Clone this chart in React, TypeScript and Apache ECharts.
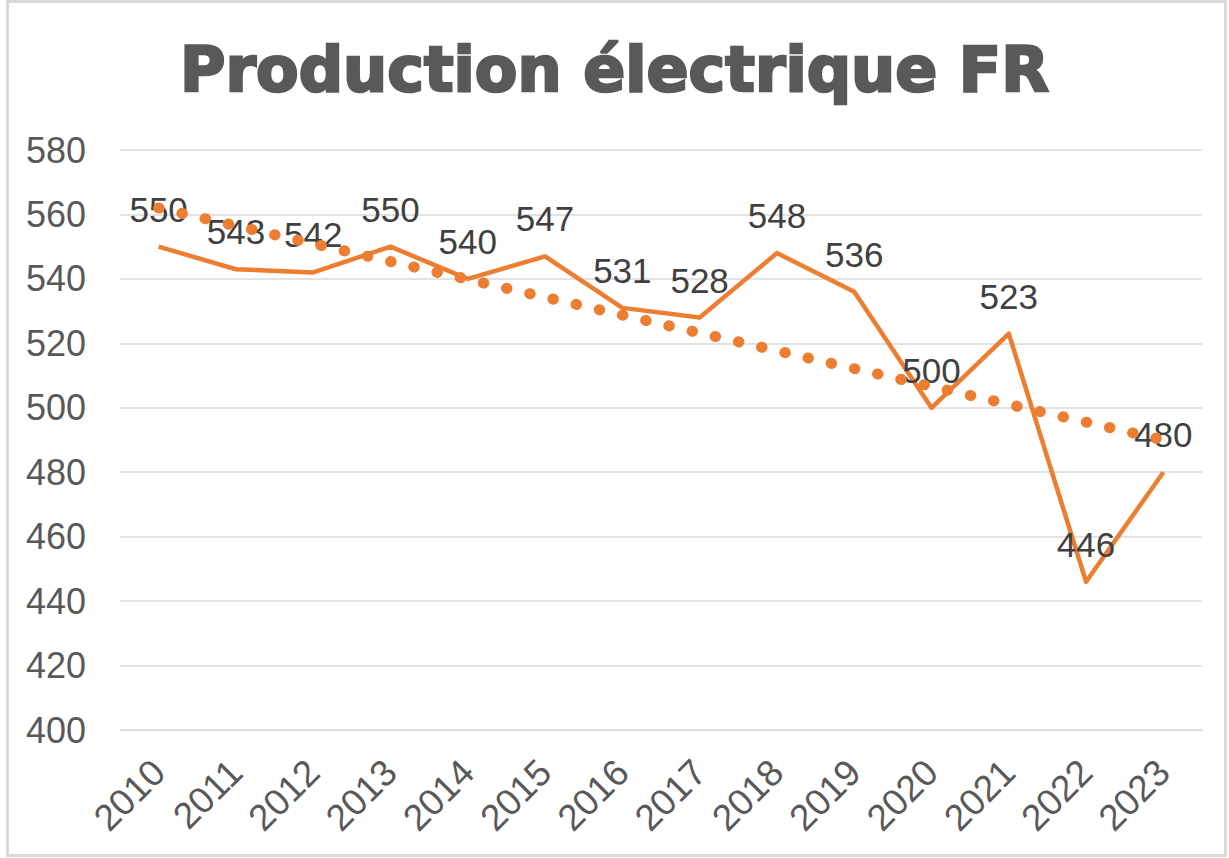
import React, { useEffect, useRef } from "react";
import * as echarts from "echarts";

const years = ["2010", "2011", "2012", "2013", "2014", "2015", "2016", "2017", "2018", "2019", "2020", "2021", "2022", "2023"];
const production = [550, 543, 542, 550, 540, 547, 531, 528, 548, 536, 500, 523, 446, 480];
// Linear trendline endpoints (2010 and 2023)
const trendStart = 562;
const trendEnd = 490;
const yTicks = { min: 400, max: 580, step: 20 };
const titleText = "Production électrique FR";

export default function App() {
  const ref = useRef<HTMLDivElement>(null);
  useEffect(() => {
    if (!ref.current) return;
    const chart = echarts.init(ref.current, undefined, { renderer: "svg" });
    const trend = years.map((_, i) => (i === 0 ? trendStart : i === years.length - 1 ? trendEnd : null));
    chart.setOption({
      animation: false,
      backgroundColor: "#ffffff",
      title: {
        text: titleText,
        left: "center",
        top: 33,
        textStyle: {
          fontFamily: "DejaVu Sans",
          fontWeight: "bold",
          fontSize: 62,
          color: "#595959",
          textBorderColor: "#595959",
          textBorderWidth: 2.5,
        },
      },
      graphic: [
        {
          type: "rect",
          shape: { x: 7.5, y: 1.5, width: 1218, height: 854 },
          style: { fill: "none", stroke: "#D9D9D9", lineWidth: 3 },
          silent: true,
        },
      ],
      grid: { left: 120, right: 27, top: 150, bottom: 128, containLabel: false },
      xAxis: {
        type: "category",
        data: years,
        boundaryGap: true,
        axisLine: { show: true, lineStyle: { color: "#D9D9D9", width: 1.5 } },
        axisTick: { show: false },
        axisLabel: {
          rotate: 45,
          margin: 36,
          fontFamily: "Liberation Sans",
          fontSize: 37,
          color: "#595959",
          interval: 0,
        },
      },
      yAxis: {
        type: "value",
        min: yTicks.min,
        max: yTicks.max,
        interval: yTicks.step,
        axisLine: { show: false },
        axisTick: { show: false },
        splitLine: { show: true, lineStyle: { color: "#D9D9D9", width: 1.5 } },
        axisLabel: {
          margin: 34,
          fontFamily: "Liberation Sans",
          fontSize: 36,
          color: "#595959",
        },
      },
      series: [
        {
          name: "Production",
          type: "line",
          data: production,
          z: 2,
          symbol: "circle",
          symbolSize: 0,
          showSymbol: true,
          lineStyle: { color: "#ED7D31", width: 4.5, join: "round" },
          itemStyle: { color: "#ED7D31" },
          label: {
            show: true,
            position: "top",
            distance: 20,
            fontFamily: "Liberation Sans",
            fontSize: 35,
            color: "#404040",
          },
          labelLayout: { hideOverlap: false },
        },
        {
          name: "Tendance",
          type: "line",
          data: trend,
          connectNulls: true,
          z: 5,
          symbol: "none",
          silent: true,
          lineStyle: { color: "#ED7D31", width: 11, type: [0.5, 23.3], cap: "round" },
        },
      ],
    });
    return () => chart.dispose();
  }, []);
  return <div ref={ref} style={{ position: "absolute", left: 0, top: 0, width: 1229, height: 858 }} />;
}
